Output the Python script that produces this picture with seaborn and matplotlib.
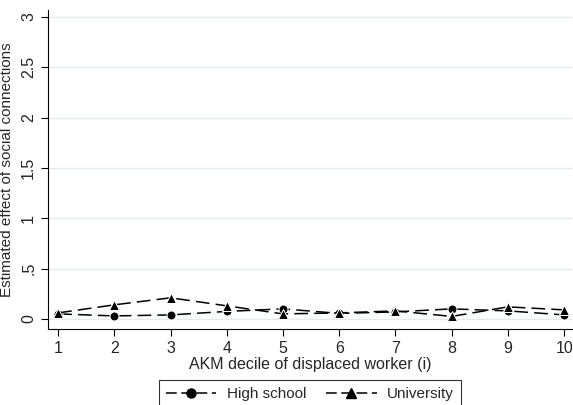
import matplotlib
matplotlib.use("Agg")
import matplotlib.pyplot as plt
import seaborn as sns
import pandas as pd
from matplotlib.lines import Line2D

deciles = [1, 2, 3, 4, 5, 6, 7, 8, 9, 10]
high_school = [0.05, 0.03, 0.04, 0.075, 0.10, 0.055, 0.07, 0.10, 0.08, 0.04]
university = [0.06, 0.14, 0.21, 0.13, 0.05, 0.06, 0.08, 0.025, 0.12, 0.09]
yticks = [0, 0.5, 1, 1.5, 2, 2.5, 3]
yticklabels = ["0", ".5", "1", "1.5", "2", "2.5", "3"]

sns.set_theme(style="white")
plt.rcParams['font.family'] = ['Liberation Sans', 'DejaVu Sans']

df = pd.DataFrame({
    "decile": deciles * 2,
    "value": high_school + university,
    "group": ["High school"] * 10 + ["University"] * 10,
})

fig = plt.figure(figsize=(5.73, 4.05), dpi=100)
ax = fig.add_axes([48/573, 76/405, (572-48)/573, (329-10)/405])

sns.lineplot(data=df, x="decile", y="value", hue="group", style="group",
             markers={"High school": "o", "University": "^"},
             dashes={"High school": (9, 4), "University": (9, 4)},
             palette={"High school": "black", "University": "black"},
             markersize=6.5, linewidth=1.1, ax=ax, legend=False)

ax.set_xlim(0.82, 10.14)
ax.set_ylim(-0.1, 3.07)
ax.set_xticks(deciles)
ax.set_yticks(yticks)
ax.set_yticklabels(yticklabels, rotation=90, va="center")
ax.tick_params(axis="both", labelsize=11.5, length=5, width=0.8, color="black", direction="out",
               bottom=True, left=True)
ax.yaxis.grid(True, color="#e4eaed", linewidth=1)
ax.xaxis.grid(False)
for s in ["top", "right"]:
    ax.spines[s].set_visible(False)
for s in ["left", "bottom"]:
    ax.spines[s].set_color("black")
    ax.spines[s].set_linewidth(0.8)
ax.set_xlabel("AKM decile of displaced worker (i)", fontsize=11.5, labelpad=1)
ax.set_ylabel("Estimated effect of social connections", fontsize=11, labelpad=5)

handles = [
    Line2D([0], [0], color="black", linestyle=(0, (7, 3)), marker="o", markersize=6.5, linewidth=1.1),
    Line2D([0], [0], color="black", linestyle=(0, (7, 3)), marker="^", markersize=6.5, linewidth=1.1),
]
leg = fig.legend(handles, ["High school", "University"], loc="upper center",
                 bbox_to_anchor=(310/573, 1 - 380/405), ncol=2, frameon=True, fontsize=11,
                 fancybox=False, edgecolor="black", handlelength=3.3, columnspacing=1.3,
                 handletextpad=0.7, borderpad=0.45, borderaxespad=0)
leg.get_frame().set_linewidth(0.8)

fig.savefig("out.png", dpi=100)
